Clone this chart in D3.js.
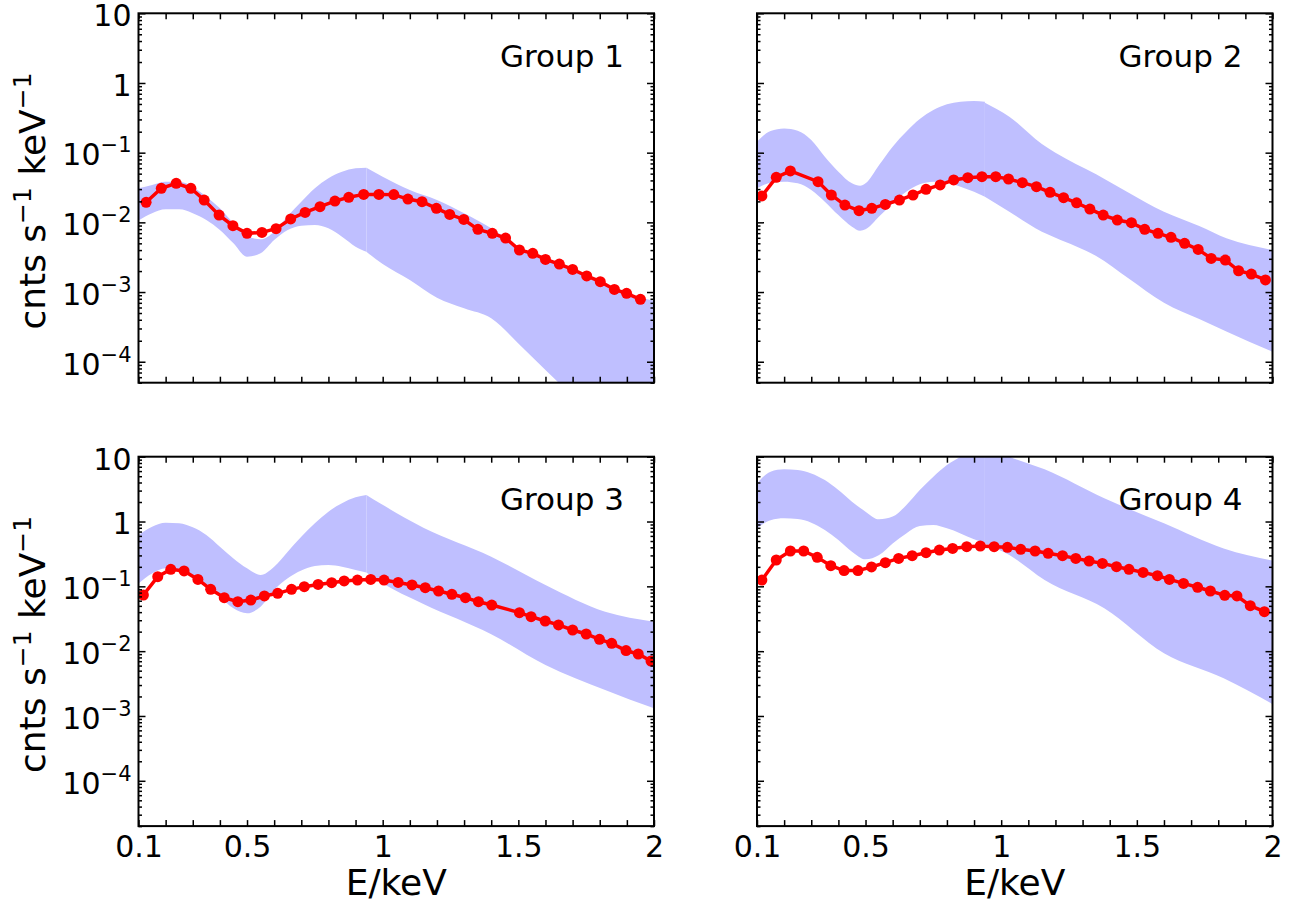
<!DOCTYPE html>
<html>
<head>
<meta charset="utf-8">
<script src="https://cdn.jsdelivr.net/npm/d3@7"></script>
<style>
  body { margin: 0; background: #fff; }
  text { font-family: "DejaVu Sans", sans-serif; fill: #000; }
</style>
</head>
<body>
<svg id="chart" width="1295" height="903"></svg>
<script>
// ---- Group 1 ----
const e1 = [0.128, 0.184, 0.239, 0.293, 0.342, 0.397, 0.448, 0.500, 0.555, 0.607, 0.661, 0.714, 0.769, 0.824, 0.875, 0.930, 0.986, 1.041,
  1.093, 1.145, 1.198, 1.247, 1.299, 1.351, 1.404, 1.453, 1.504, 1.553, 1.600, 1.651, 1.700, 1.752, 1.802, 1.854, 1.899, 1.950];
const rate1 = [0.0194, 0.0308, 0.0363, 0.0308, 0.0209, 0.0127, 0.00895, 0.00695, 0.00718, 0.00811, 0.0112, 0.0139, 0.0168, 0.0202, 0.0229, 0.0252, 0.0252, 0.0250,
  0.0216, 0.0198, 0.0159, 0.0130, 0.0110, 0.00794, 0.00695, 0.00596, 0.00401, 0.00359, 0.00294, 0.00252, 0.00211, 0.00170, 0.00141, 0.00109, 0.000957, 0.000785];
const bandE1a = [0.1, 0.15, 0.2, 0.25, 0.3, 0.35, 0.4, 0.45, 0.5, 0.55, 0.6, 0.65, 0.7, 0.75, 0.8, 0.85, 0.9, 0.94];
const hi1a = [0.0308, 0.0344, 0.0384, 0.0384, 0.0325, 0.0233, 0.0159, 0.00968, 0.00637, 0.00570, 0.00735, 0.0123, 0.0198, 0.0308, 0.0429, 0.0533, 0.0596, 0.0610];
const lo1a = [0.0106, 0.0135, 0.0154, 0.0154, 0.0135, 0.0108, 0.00776, 0.00500, 0.00321, 0.00359, 0.00557, 0.00776, 0.00895, 0.00916, 0.00820, 0.00622, 0.00448, 0.00379];
const bandE1b = [0.94, 1.0, 1.1, 1.2, 1.3, 1.4, 1.5, 1.6, 1.7, 1.8, 1.9, 2.0];
const hi1b = [0.0610, 0.0453, 0.0291, 0.0209, 0.0135, 0.00820, 0.00448, 0.00290, 0.00200, 0.00138, 0.000955, 0.00075];
const lo1b = [0.00379, 0.00252, 0.00149, 0.00083, 0.000583, 0.000419, 0.000183, 7.6e-5, 3.2e-5, 1.3e-5, 5.4e-6, 2.2e-6];

// ---- Group 2 ----
const e2 = [0.118, 0.171, 0.223, 0.325, 0.374, 0.424, 0.476, 0.523, 0.573, 0.625, 0.675, 0.723, 0.775, 0.825, 0.877, 0.929, 0.980, 1.027, 1.078,
  1.130, 1.180, 1.230, 1.278, 1.327, 1.376, 1.428, 1.480, 1.529, 1.578, 1.626, 1.676, 1.726, 1.774, 1.826, 1.875, 1.922, 1.974];
const rate2 = [0.0239, 0.0443, 0.0546, 0.0384, 0.0247, 0.0177, 0.0147, 0.0159, 0.0181, 0.0209, 0.0247, 0.0298, 0.0344, 0.0406, 0.0438, 0.0453, 0.0453, 0.0419, 0.0371,
  0.0325, 0.0270, 0.0226, 0.0191, 0.0155, 0.0127, 0.0108, 0.00989, 0.00794, 0.00695, 0.00610, 0.00500, 0.00409, 0.00304, 0.00288, 0.00202, 0.00181, 0.00149];
const bandE2a = [0.1, 0.15, 0.2, 0.25, 0.3, 0.35, 0.4, 0.45, 0.48, 0.5, 0.55, 0.6, 0.65, 0.7, 0.75, 0.8, 0.85, 0.9, 0.94];
const hi2a = [0.144, 0.205, 0.223, 0.207, 0.152, 0.0877, 0.0533, 0.0363, 0.0336, 0.0363, 0.0665, 0.122, 0.200, 0.304, 0.409, 0.494, 0.540, 0.552, 0.540];
const lo2a = [0.0308, 0.0371, 0.0384, 0.0363, 0.0291, 0.0198, 0.0127, 0.00867, 0.00759, 0.00794, 0.0121, 0.0187, 0.0275, 0.0351, 0.0384, 0.0371, 0.0325, 0.0275, 0.0233];
const bandE2b = [0.94, 1.03, 1.15, 1.2, 1.35, 1.47, 1.6, 1.73, 1.83, 2.0];
const hi2b = [0.522, 0.329, 0.133, 0.100, 0.0489, 0.0267, 0.0142, 0.00885, 0.00589, 0.00401];
const lo2b = [0.0233, 0.0142, 0.00735, 0.00603, 0.00329, 0.00157, 0.000703, 0.000409, 0.000272, 0.000139];

// ---- Group 3 ----
const e3 = [0.118, 0.171, 0.219, 0.268, 0.319, 0.366, 0.416, 0.466, 0.514, 0.564, 0.613, 0.664, 0.711, 0.762, 0.812, 0.858, 0.907, 0.956, 1.005,
  1.057, 1.108, 1.157, 1.206, 1.255, 1.305, 1.353, 1.402, 1.504, 1.547, 1.599, 1.648, 1.700, 1.750, 1.799, 1.844, 1.897, 1.942, 1.989];
const rate3 = [0.0735, 0.141, 0.183, 0.173, 0.128, 0.0899, 0.0668, 0.0579, 0.0615, 0.0710, 0.0780, 0.0899, 0.0989, 0.107, 0.114, 0.121, 0.125, 0.128, 0.125,
  0.115, 0.105, 0.0953, 0.0847, 0.0753, 0.0668, 0.0579, 0.0515, 0.0393, 0.0340, 0.0292, 0.0254, 0.0212, 0.0184, 0.0152, 0.0132, 0.0102, 0.00904, 0.00705];
const bandE3a = [0.1, 0.15, 0.2, 0.25, 0.3, 0.35, 0.4, 0.45, 0.5, 0.55, 0.6, 0.65, 0.7, 0.75, 0.8, 0.85, 0.9, 0.94];
const hi3a = [0.619, 0.832, 0.959, 0.938, 0.813, 0.619, 0.409, 0.270, 0.190, 0.150, 0.201, 0.343, 0.583, 0.938, 1.42, 1.91, 2.36, 2.56];
const lo3a = [0.111, 0.158, 0.190, 0.179, 0.141, 0.0989, 0.0693, 0.0458, 0.0384, 0.0485, 0.0877, 0.133, 0.175, 0.206, 0.213, 0.201, 0.179, 0.163];
const bandE3b = [0.94, 0.99, 1.15, 1.4, 1.6, 1.82, 2.0];
const hi3b = [2.56, 1.91, 0.804, 0.287, 0.105, 0.0406, 0.0285];
const lo3b = [0.163, 0.118, 0.0535, 0.0183, 0.00612, 0.00252, 0.00131];

// ---- Group 4 ----
const e4 = [0.118, 0.171, 0.223, 0.272, 0.322, 0.372, 0.421, 0.472, 0.522, 0.573, 0.622, 0.672, 0.723, 0.772, 0.821, 0.873, 0.923, 0.974, 1.023,
  1.072, 1.125, 1.173, 1.226, 1.275, 1.324, 1.373, 1.425, 1.471, 1.523, 1.576, 1.620, 1.672, 1.724, 1.771, 1.824, 1.869, 1.918, 1.970];
const rate4 = [0.125, 0.255, 0.351, 0.351, 0.280, 0.208, 0.175, 0.175, 0.199, 0.232, 0.270, 0.297, 0.330, 0.363, 0.385, 0.409, 0.419, 0.409, 0.400,
  0.372, 0.351, 0.323, 0.297, 0.270, 0.246, 0.226, 0.201, 0.183, 0.164, 0.146, 0.128, 0.111, 0.0966, 0.0847, 0.0726, 0.0710, 0.0504, 0.0406];
const bandE4a = [0.1, 0.15, 0.2, 0.25, 0.3, 0.35, 0.4, 0.45, 0.5, 0.55, 0.6, 0.65, 0.7, 0.75, 0.8, 0.85, 0.9, 0.94];
const hi4a = [3.88, 5.87, 6.38, 6.22, 5.53, 4.37, 3.06, 2.02, 1.42, 1.08, 1.19, 1.79, 3.06, 4.92, 7.43, 10.0, 12.7, 14.3];
const lo4a = [0.785, 1.05, 1.12, 1.09, 0.959, 0.740, 0.519, 0.343, 0.261, 0.304, 0.460, 0.656, 0.853, 0.883, 0.785, 0.656, 0.531, 0.460];
const bandE4b = [0.94, 1.03, 1.16, 1.38, 1.6, 1.82, 2.0];
const hi4b = [14.3, 10.0, 6.38, 2.28, 0.938, 0.385, 0.249];
const lo4b = [0.460, 0.304, 0.125, 0.0458, 0.00927, 0.00381, 0.00153];

const groupNames = ["Group 1", "Group 2", "Group 3", "Group 4"];
const xTicks = d3.range(1, 21).map(i => i / 10);
const xLabels = [0.1, 0.5, 1, 1.5, 2];

const groups = [
  { e: e1, rate: rate1, a: [bandE1a, hi1a, lo1a], b: [bandE1b, hi1b, lo1b] },
  { e: e2, rate: rate2, a: [bandE2a, hi2a, lo2a], b: [bandE2b, hi2b, lo2b] },
  { e: e3, rate: rate3, a: [bandE3a, hi3a, lo3a], b: [bandE3b, hi3b, lo3b] },
  { e: e4, rate: rate4, a: [bandE4a, hi4a, lo4a], b: [bandE4b, hi4b, lo4b] }
];

const svg = d3.select("#chart");
const w = 515.5, h = 369.4;
const lefts = [138.5, 757], tops = [13.3, 456.7];

function supLabel(t, base, exp, size, shift) {
  t.append("tspan").text(base);
  t.append("tspan").attr("dy", -shift).attr("font-size", size).text(exp);
}

groups.forEach((g, i) => {
  const col = i % 2, row = Math.floor(i / 2);
  const yMin = row ? 2e-5 : 5e-5;
  const x = d3.scaleLinear().domain([0.1, 2]).range([0, w]);
  const y = d3.scaleLog().domain([yMin, 10]).range([h, 0]);

  const p = svg.append("g").attr("transform", `translate(${lefts[col]},${tops[row]})`);
  p.append("clipPath").attr("id", "clip" + i)
    .append("rect").attr("width", w).attr("height", h);
  const body = p.append("g").attr("clip-path", `url(#clip${i})`);

  // model band, drawn in two pieces that meet at 0.94 keV
  const area = d3.area()
    .x(d => x(d[0])).y0(d => y(d[2])).y1(d => y(d[1]))
    .curve(d3.curveMonotoneX);
  [g.a, g.b].forEach(s => {
    body.append("path")
      .datum(d3.zip(s[0], s[1], s[2]))
      .attr("d", area)
      .attr("fill", "#bfbfff");
  });

  const pts = d3.zip(g.e, g.rate);
  body.append("path")
    .datum(pts)
    .attr("d", d3.line().x(d => x(d[0])).y(d => y(d[1])))
    .attr("fill", "none")
    .attr("stroke", "#ff0000")
    .attr("stroke-width", 3.5);
  body.selectAll("circle")
    .data(pts)
    .join("circle")
    .attr("cx", d => x(d[0]))
    .attr("cy", d => y(d[1]))
    .attr("r", 5.5)
    .attr("fill", "#ff0000");

  // log ticks
  const major = d3.range(-5, 2).map(k => Math.pow(10, k)).filter(v => v >= yMin);
  const minor = [];
  for (let k = -5; k < 1; k++)
    for (let m = 2; m < 10; m++) {
      const v = m * Math.pow(10, k);
      if (v >= yMin && v <= 10) minor.push(v);
    }

  const yl = p.append("g")
    .call(d3.axisLeft(y).tickValues(major).tickSize(-7).tickPadding(7).tickFormat(() => ""))
    .attr("font-size", 30).attr("font-family", "DejaVu Sans");
  if (col === 0) {
    yl.selectAll(".tick text").attr("dy", "0.41em").each(function (v) {
      const t = d3.select(this);
      const k = Math.round(Math.log10(v));
      if (k === 1) t.text("10");
      else if (k === 0) t.text("1");
      else supLabel(t, "10", "\u2212" + (-k), 21, 13);
    });
  }
  p.append("g").call(d3.axisLeft(y).tickValues(minor).tickSize(-3.5).tickFormat(() => ""));
  p.append("g").attr("transform", `translate(${w},0)`)
    .call(d3.axisRight(y).tickValues(major).tickSize(-7).tickFormat(() => ""));
  p.append("g").attr("transform", `translate(${w},0)`)
    .call(d3.axisRight(y).tickValues(minor).tickSize(-3.5).tickFormat(() => ""));

  p.append("g").attr("transform", `translate(0,${h})`)
    .call(d3.axisBottom(x).tickValues(xTicks).tickSize(-6).tickPadding(10)
      .tickFormat(v => (row === 1 && xLabels.includes(v)) ? String(v) : ""))
    .attr("font-size", 30).attr("font-family", "DejaVu Sans");
  p.append("g")
    .call(d3.axisTop(x).tickValues(xTicks).tickSize(-6).tickFormat(() => ""));

  p.selectAll(".domain").remove();
  p.selectAll(".tick line").attr("stroke", "#000").attr("stroke-width", 1.5);

  p.append("rect")
    .attr("width", w).attr("height", h)
    .attr("fill", "none").attr("stroke", "#000").attr("stroke-width", 2);

  p.append("text")
    .attr("x", w - 30).attr("y", 53.4)
    .attr("text-anchor", "end")
    .attr("font-size", 31)
    .text(groupNames[i]);

  if (row === 1) {
    p.append("text")
      .attr("x", w / 2).attr("y", 438.3)
      .attr("text-anchor", "middle")
      .attr("font-size", 36)
      .text("E/keV");
  }
  if (col === 0) {
    const t = p.append("text")
      .attr("transform", `translate(${45 - lefts[0]},${h / 2 + 3}) rotate(-90)`)
      .attr("text-anchor", "middle")
      .attr("font-size", 36);
    t.append("tspan").text("cnts s");
    t.append("tspan").attr("dy", -14).attr("font-size", 25).text("\u22121");
    t.append("tspan").attr("dy", 14).text("\u00a0keV");
    t.append("tspan").attr("dy", -14).attr("font-size", 25).text("\u22121");
  }
});
</script>
</body>
</html>
